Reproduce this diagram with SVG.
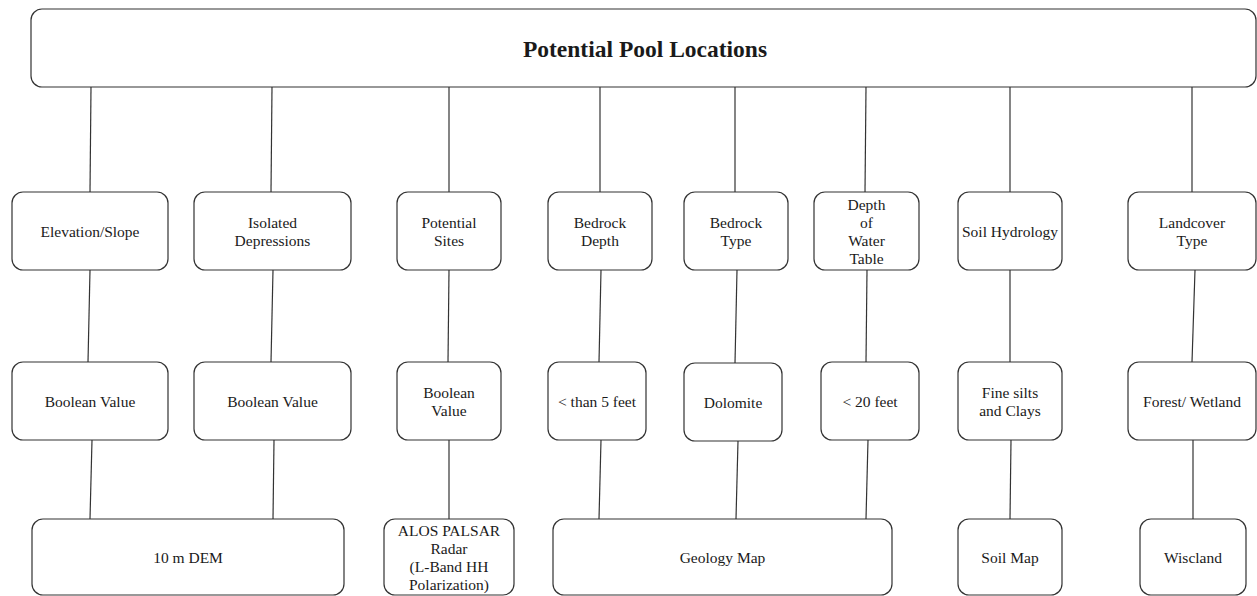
<svg xmlns="http://www.w3.org/2000/svg" width="1257" height="596" viewBox="0 0 1257 596">
<style>
.box{fill:#ffffff;stroke:#333333;stroke-width:1.2}
.ln{stroke:#333333;stroke-width:1.2;fill:none}
.t{font-family:'Liberation Serif','Tinos','Times New Roman','DejaVu Serif',serif;font-size:15.5px;fill:#1a1a1a;text-anchor:middle}
.title{font-family:'Liberation Serif','Tinos','Times New Roman','DejaVu Serif',serif;font-size:23.5px;font-weight:bold;fill:#1a1a1a;text-anchor:middle}
</style>
<rect width="1257" height="596" fill="#ffffff"/>
<g id="connectors">
<line class="ln" x1="91" y1="87" x2="90" y2="192"/>
<line class="ln" x1="272" y1="87" x2="271" y2="192"/>
<line class="ln" x1="449" y1="87" x2="449" y2="192"/>
<line class="ln" x1="600" y1="87" x2="600" y2="192"/>
<line class="ln" x1="735" y1="87" x2="735" y2="192"/>
<line class="ln" x1="866" y1="87" x2="865" y2="192"/>
<line class="ln" x1="1010" y1="87" x2="1010" y2="192"/>
<line class="ln" x1="1192" y1="87" x2="1192" y2="192"/>
<line class="ln" x1="90" y1="270" x2="88" y2="362"/>
<line class="ln" x1="273" y1="270" x2="271" y2="362"/>
<line class="ln" x1="449" y1="270" x2="448" y2="362"/>
<line class="ln" x1="601" y1="270" x2="599" y2="362"/>
<line class="ln" x1="737" y1="270" x2="735" y2="363"/>
<line class="ln" x1="867" y1="270" x2="866" y2="362"/>
<line class="ln" x1="1010" y1="270" x2="1010" y2="362"/>
<line class="ln" x1="1195" y1="270" x2="1192" y2="362"/>
<line class="ln" x1="92" y1="440" x2="90" y2="519"/>
<line class="ln" x1="274" y1="440" x2="273" y2="519"/>
<line class="ln" x1="449" y1="440" x2="449" y2="519"/>
<line class="ln" x1="601" y1="440" x2="599" y2="519"/>
<line class="ln" x1="738" y1="441" x2="736" y2="519"/>
<line class="ln" x1="868" y1="440" x2="866" y2="519"/>
<line class="ln" x1="1011" y1="440" x2="1010" y2="519"/>
<line class="ln" x1="1193" y1="440" x2="1193" y2="519"/>
</g>
<g id="root">
<rect class="box" x="31" y="9" width="1225" height="78" rx="11"/>
<text class="title" x="645" y="57">Potential Pool Locations</text>
</g>
<g id="elevation">
<rect class="box" x="12" y="192" width="156" height="78" rx="11"/>
<text class="t" x="90" y="237">Elevation/Slope</text>
</g>
<g id="isolated">
<rect class="box" x="194" y="192" width="157" height="78" rx="11"/>
<text class="t" x="272.5" y="228">Isolated</text>
<text class="t" x="272.5" y="246">Depressions</text>
</g>
<g id="potential-sites">
<rect class="box" x="397" y="192" width="104" height="78" rx="11"/>
<text class="t" x="449" y="228">Potential</text>
<text class="t" x="449" y="246">Sites</text>
</g>
<g id="bedrock-depth">
<rect class="box" x="548" y="192" width="104" height="78" rx="11"/>
<text class="t" x="600" y="228">Bedrock</text>
<text class="t" x="600" y="246">Depth</text>
</g>
<g id="bedrock-type">
<rect class="box" x="684" y="192" width="104" height="78" rx="11"/>
<text class="t" x="736" y="228">Bedrock</text>
<text class="t" x="736" y="246">Type</text>
</g>
<g id="water-table">
<rect class="box" x="814" y="192" width="105" height="78" rx="11"/>
<text class="t" x="866.5" y="210">Depth</text>
<text class="t" x="866.5" y="228">of</text>
<text class="t" x="866.5" y="246">Water</text>
<text class="t" x="866.5" y="264">Table</text>
</g>
<g id="soil-hydrology">
<rect class="box" x="958" y="192" width="104" height="78" rx="11"/>
<text class="t" x="1010" y="237">Soil Hydrology</text>
</g>
<g id="landcover">
<rect class="box" x="1128" y="192" width="128" height="78" rx="11"/>
<text class="t" x="1192" y="228">Landcover</text>
<text class="t" x="1192" y="246">Type</text>
</g>
<g id="bool1">
<rect class="box" x="12" y="362" width="156" height="78" rx="11"/>
<text class="t" x="90" y="407">Boolean Value</text>
</g>
<g id="bool2">
<rect class="box" x="194" y="362" width="157" height="78" rx="11"/>
<text class="t" x="272.5" y="407">Boolean Value</text>
</g>
<g id="bool3">
<rect class="box" x="397" y="362" width="104" height="78" rx="11"/>
<text class="t" x="449" y="398">Boolean</text>
<text class="t" x="449" y="416">Value</text>
</g>
<g id="lt5feet">
<rect class="box" x="548" y="362" width="98" height="78" rx="11"/>
<text class="t" x="597" y="407">&lt; than 5 feet</text>
</g>
<g id="dolomite">
<rect class="box" x="684" y="363" width="98" height="78" rx="11"/>
<text class="t" x="733" y="408">Dolomite</text>
</g>
<g id="lt20feet">
<rect class="box" x="821" y="362" width="98" height="78" rx="11"/>
<text class="t" x="870" y="407">&lt; 20 feet</text>
</g>
<g id="fine-silts">
<rect class="box" x="958" y="362" width="104" height="78" rx="11"/>
<text class="t" x="1010" y="398">Fine silts</text>
<text class="t" x="1010" y="416">and Clays</text>
</g>
<g id="forest">
<rect class="box" x="1128" y="362" width="128" height="78" rx="11"/>
<text class="t" x="1192" y="407">Forest/ Wetland</text>
</g>
<g id="dem">
<rect class="box" x="32" y="519" width="312" height="76" rx="11"/>
<text class="t" x="188" y="563">10 m DEM</text>
</g>
<g id="alos">
<rect class="box" x="384" y="519" width="130" height="76" rx="11"/>
<text class="t" x="449" y="536">ALOS PALSAR</text>
<text class="t" x="449" y="554">Radar</text>
<text class="t" x="449" y="572">(L-Band HH</text>
<text class="t" x="449" y="590">Polarization)</text>
</g>
<g id="geology">
<rect class="box" x="553" y="519" width="339" height="76" rx="11"/>
<text class="t" x="722.5" y="563">Geology Map</text>
</g>
<g id="soil-map">
<rect class="box" x="958" y="519" width="104" height="76" rx="11"/>
<text class="t" x="1010" y="563">Soil Map</text>
</g>
<g id="wiscland">
<rect class="box" x="1140" y="519" width="106" height="76" rx="11"/>
<text class="t" x="1193" y="563">Wiscland</text>
</g>
</svg>
